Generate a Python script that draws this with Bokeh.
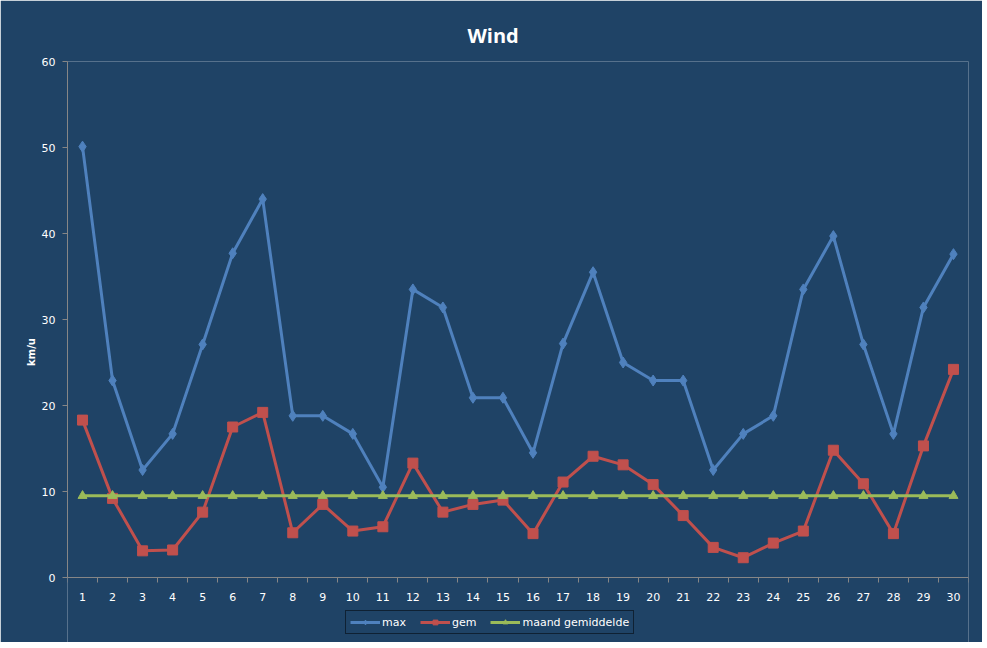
from bokeh.plotting import figure
from bokeh.models import FixedTicker, Range1d, Legend, LegendItem
from bokeh.embed import file_html
from bokeh.resources import INLINE

days = list(range(1, 31))
max_wind = [50.1, 22.9, 12.5, 16.7, 27.1, 37.7, 44.0, 18.8, 18.8, 16.7,
            10.5, 33.5, 31.4, 20.9, 20.9, 14.5, 27.2, 35.5, 25.0, 22.9,
            22.9, 12.5, 16.7, 18.8, 33.5, 39.7, 27.1, 16.7, 31.4, 37.6]
gem_wind = [18.3, 9.2, 3.1, 3.2, 7.6, 17.5, 19.2, 5.2, 8.5, 5.4,
            5.9, 13.3, 7.6, 8.5, 9.0, 5.1, 11.1, 14.1, 13.1, 10.8,
            7.2, 3.5, 2.3, 4.0, 5.4, 14.8, 10.9, 5.1, 15.3, 24.2]
maand_gem = [9.5] * 30
y_ticks = [0, 10, 20, 30, 40, 50, 60]

BG = "#1F4366"
GRID = "#868686"

# frame extends below the value axis so the legend can sit under the x axis
PLOT_H = 516
BELOW = 65
y_start = -60.0 * BELOW / PLOT_H

p = figure(frame_width=901, frame_height=PLOT_H + BELOW, output_backend="svg", toolbar_location=None,
           x_range=Range1d(0.5, 30.5), y_range=Range1d(y_start, 60),
           min_border_left=67, min_border_right=14, min_border_top=61, min_border_bottom=0)
p.background_fill_color = BG
p.border_fill_color = BG
p.outline_line_color = None
p.xgrid.visible = False
p.ygrid.visible = False

p.title.text = "Wind"
p.title.align = "left"
p.title.text_color = "white"
p.title.text_font = "Open Sans"
p.title.text_font_size = "20px"
p.title.text_font_style = "bold"
p.title.offset = 400
p.title.standoff = 25

p.xaxis.fixed_location = 0
p.xaxis.ticker = FixedTicker(ticks=days, minor_ticks=[d - 0.5 for d in days] + [30.5])
p.xaxis.major_tick_line_color = None
p.xaxis.minor_tick_out = 5
p.xaxis.minor_tick_in = 0
p.xaxis.minor_tick_line_color = GRID
p.xaxis.axis_line_color = GRID
p.xaxis.major_label_text_color = "white"
p.xaxis.major_label_text_font = "DejaVu Sans"
p.xaxis.major_label_text_font_size = "11px"
p.xaxis.major_label_standoff = 9

p.yaxis.bounds = (0, 60)
p.yaxis.ticker = FixedTicker(ticks=y_ticks, minor_ticks=[])
p.yaxis.major_tick_out = 5
p.yaxis.major_tick_in = 0
p.yaxis.major_tick_line_color = GRID
p.yaxis.axis_line_color = GRID
p.yaxis.major_label_text_color = "white"
p.yaxis.major_label_text_font = "DejaVu Sans"
p.yaxis.major_label_text_font_size = "11px"
p.yaxis.major_label_standoff = 7
p.yaxis.axis_label = "km/u"
p.yaxis.axis_label_text_color = "white"
p.yaxis.axis_label_text_font = "DejaVu Sans"
p.yaxis.axis_label_text_font_size = "10px"
p.yaxis.axis_label_text_font_style = "bold"
p.yaxis.axis_label_standoff = 2

l1 = p.line(days, max_wind, line_color="#4F81BD", line_width=3)
s1 = p.scatter(days, max_wind, marker="diamond", size=11, fill_color="#4F81BD", line_color="#4F81BD")
l2 = p.line(days, gem_wind, line_color="#C0504D", line_width=3)
s2 = p.scatter(days, gem_wind, marker="square", size=10, fill_color="#C0504D", line_color="#C0504D")
l3 = p.line(days, maand_gem, line_color="#9BBB59", line_width=3)
s3 = p.scatter(days, maand_gem, marker="triangle", size=9, fill_color="#9BBB59", line_color="#9BBB59")

legend = Legend(items=[LegendItem(label="max", renderers=[l1, s1]),
                       LegendItem(label="gem", renderers=[l2, s2]),
                       LegendItem(label="maand gemiddelde", renderers=[l3, s3])],
                orientation="horizontal", location=(278, 8))
legend.border_line_color = "black"
legend.border_line_width = 1
legend.background_fill_color = BG
legend.background_fill_alpha = 1
legend.label_text_color = "white"
legend.label_text_font = "DejaVu Sans"
legend.label_text_font_size = "11px"
legend.glyph_width = 30
legend.glyph_height = 12
legend.label_height = 14
legend.label_standoff = 2
legend.spacing = 14
legend.padding = 4
legend.margin = 0
p.add_layout(legend, "center")

open("out.html", "w").write(file_html(p, INLINE))
